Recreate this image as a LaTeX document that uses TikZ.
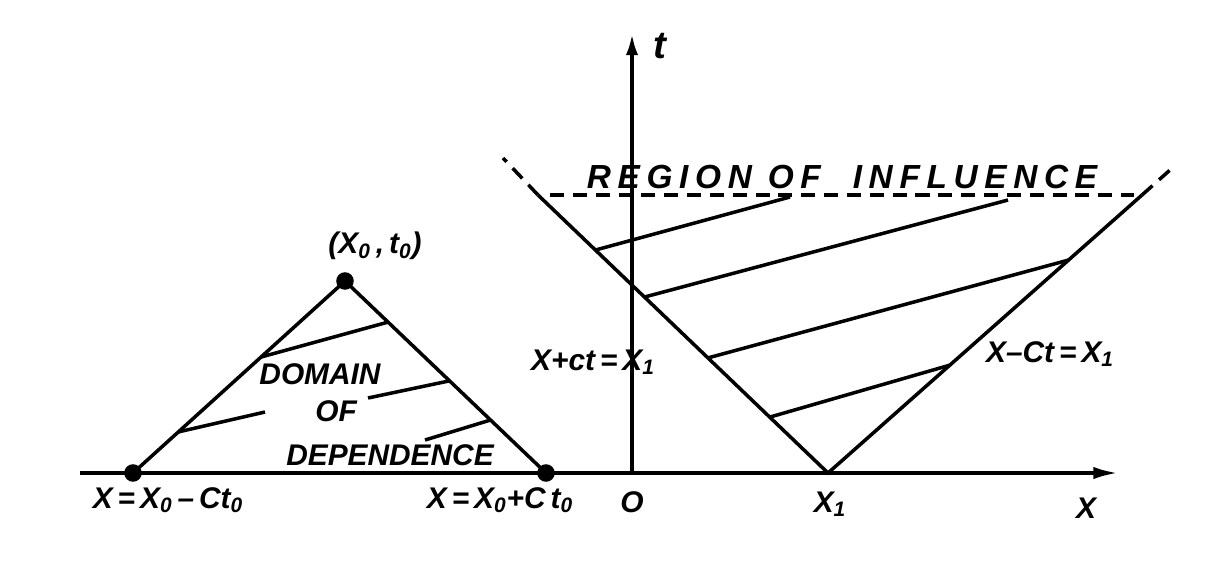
\documentclass[tikz,border=0pt]{standalone}
\usepackage{fontspec}
\setmainfont{Liberation Sans}
\usetikzlibrary{arrows.meta,calc}
\begin{document}
\begin{tikzpicture}[x=0.02cm,y=-0.02cm,
  ln/.style={line width=2pt},
  dsh/.style={line width=2pt,dash pattern=on 8pt off 5pt},
  lbl/.style={font=\fontsize{17}{20}\selectfont\bfseries\itshape, inner sep=0pt},
  big/.style={font=\fontsize{19}{20}\selectfont\bfseries\itshape\addfontfeature{LetterSpace=20}, inner sep=0pt},
  dot/.style={circle,fill,inner sep=0pt,minimum size=10pt}]
\useasboundingbox (0,0) rectangle (1222,562);
% axes
\coordinate (xs) at (80,473);
\coordinate (xe) at (1118,473);
\coordinate (O) at (632,473);
\coordinate (te) at (632,34);
\draw[ln,-{Latex[length=14pt,width=7pt]}] (xs) -- (xe);
\draw[ln,-{Latex[length=12pt,width=7pt]}] (O) -- (te);
\node[lbl,font=\fontsize{22}{24}\selectfont\bfseries\itshape] (tl) at (660,46) {t};
\node[lbl] (xl) at (1086,508) {X};
\node[lbl] (ol) at (632,502) {O};
% domain of dependence
\node[dot] (A) at (133,473) {};
\node[dot] (B) at (546,473) {};
\node[dot] (P) at (345,281) {};
\draw[ln] (A.center) -- (P.center) -- (B.center);
\draw[ln] ($(A.center)!0.604!(P.center)$) -- ($(P.center)!0.214!(B.center)$);
\coordinate (h2a) at (265,412);
\coordinate (h2b) at (368,398);
\draw[ln] ($(A.center)!0.214!(P.center)$) -- (h2a);
\draw[ln] (h2b) -- ($(P.center)!0.52!(B.center)$);
\coordinate (h3a) at (425,440);
\draw[ln] (h3a) -- ($(P.center)!0.724!(B.center)$);
\node[lbl] (dom) at (320,374) {DOMAIN};
\node[lbl] (of) at (336,411) {OF};
\node[lbl] (dep) at (390,455) {DEPENDENCE};
\node[lbl] (pl) at (375,246) {(X\textsubscript{0}\,,\,t\textsubscript{0})};
\node[lbl] (al) at (168,500) {X\,=\,X\textsubscript{0}\,--\,Ct\textsubscript{0}};
\node[lbl] (bl) at (500,500) {X\,=\,X\textsubscript{0}+C\,t\textsubscript{0}};
% region of influence
\coordinate (X1) at (828,473);
\coordinate (Lt) at (538,195);
\coordinate (Rt) at (1142,195);
\coordinate (Le) at (503,158);
\coordinate (Re) at (1170,170);
\draw[ln] (Lt) -- (X1) -- (Rt);
\draw[dsh] (Lt) -- (Le);
\draw[dsh] (Rt) -- (Re);
\coordinate (dl) at (550,195);
\coordinate (dr) at (1134,195);
\draw[dsh] (dl) -- (dr);
\coordinate (e1) at (790,197);
\coordinate (e2) at (1008,200);
\draw[ln] ($(X1)!0.802!(Lt)$) -- (e1);
\draw[ln] ($(X1)!0.633!(Lt)$) -- (e2);
\draw[ln] ($(X1)!0.414!(Lt)$) -- ($(X1)!0.766!(Rt)$);
\draw[ln] ($(X1)!0.201!(Lt)$) -- ($(X1)!0.388!(Rt)$);
\node[big] (roi) at (842,177) {REGION OF\ \ INFLUENCE};
\node[lbl] (x1l) at (830,504) {X\textsubscript{1}};
\node[lbl] (ll) at (593,362) {X+ct\,=\,X\textsubscript{1}};
\node[lbl] (rl) at (1050,354) {X--Ct\,=\,X\textsubscript{1}};
\end{tikzpicture}
\end{document}
